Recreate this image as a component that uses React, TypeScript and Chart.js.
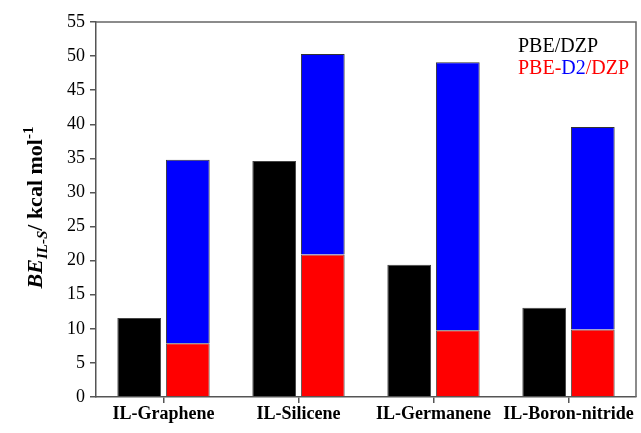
import React, { useEffect, useRef } from "react";
import { Chart, registerables } from "chart.js";

Chart.register(...registerables);

const categories = ["IL-Graphene", "IL-Silicene", "IL-Germanene", "IL-Boron-nitride"];
const pbeValues = [11.6, 34.6, 19.4, 13.1];
const pbeD2BaseValues = [7.9, 20.9, 9.8, 9.9];
const pbeD2TotalValues = [34.8, 50.3, 49.1, 39.6];
const yTicks = [0, 5, 10, 15, 20, 25, 30, 35, 40, 45, 50, 55];

const SERIF = '"Liberation Serif", "Times New Roman", serif';

const decorPlugin = {
  id: "decor",
  afterDraw(chart: any) {
    const { ctx, chartArea } = chart;
    const { left, right, top, bottom } = chartArea;
    ctx.save();
    // frame top & right
    ctx.strokeStyle = "#666";
    ctx.lineWidth = 1.5;
    ctx.beginPath();
    ctx.moveTo(left, top);
    ctx.lineTo(right, top);
    ctx.lineTo(right, bottom);
    ctx.stroke();

    // legend text
    ctx.textBaseline = "alphabetic";
    ctx.textAlign = "left";
    ctx.font = `20px ${SERIF}`;
    const lx = 518;
    ctx.fillStyle = "#000";
    ctx.fillText("PBE/DZP", lx, 52);
    const parts: [string, string][] = [
      ["PBE-", "#ff0000"],
      ["D2", "#0000ff"],
      ["/DZP", "#ff0000"],
    ];
    let x = lx;
    for (const [t, c] of parts) {
      ctx.fillStyle = c;
      ctx.fillText(t, x, 74);
      x += ctx.measureText(t).width;
    }

    // y axis title (rotated)
    const segs: { t: string; font: string; dy: number }[] = [
      { t: "BE", font: `italic bold 22px ${SERIF}`, dy: 0 },
      { t: "IL-S", font: `italic bold 15px ${SERIF}`, dy: 5 },
      { t: "/ kcal mol", font: `bold 22px ${SERIF}`, dy: 0 },
      { t: "-1", font: `bold 15px ${SERIF}`, dy: -9 },
    ];
    let total = 0;
    for (const s of segs) {
      ctx.font = s.font;
      total += ctx.measureText(s.t).width;
    }
    const cy = (top + bottom) / 2 - 2;
    ctx.translate(42, cy);
    ctx.rotate(-Math.PI / 2);
    ctx.fillStyle = "#000";
    let px = -total / 2;
    for (const s of segs) {
      ctx.font = s.font;
      ctx.fillText(s.t, px, s.dy);
      px += ctx.measureText(s.t).width;
    }
    ctx.restore();
  },
};

export default function App() {
  const ref = useRef<HTMLCanvasElement | null>(null);
  useEffect(() => {
    if (!ref.current) return;
    const blueValues = pbeD2TotalValues.map((v, i) => +(v - pbeD2BaseValues[i]).toFixed(2));
    const chart = new Chart(ref.current, {
      type: "bar",
      data: {
        labels: categories,
        datasets: [
          {
            label: "PBE/DZP",
            data: pbeValues,
            backgroundColor: "#000000",
            borderColor: "#444",
            borderWidth: 1,
            stack: "a",
          },
          {
            label: "PBE-D2/DZP (PBE part)",
            data: pbeD2BaseValues,
            backgroundColor: "#ff0000",
            borderColor: "#555",
            borderWidth: 1,
            stack: "b",
          },
          {
            label: "PBE-D2/DZP (D2 part)",
            data: blueValues,
            backgroundColor: "#0000ff",
            borderColor: "#333",
            borderWidth: 1,
            stack: "b",
          },
        ],
      },
      options: {
        responsive: false,
        animation: false,
        devicePixelRatio: 1,
        layout: { padding: { top: 22, right: 5, left: 0, bottom: 0 } },
        plugins: { legend: { display: false }, tooltip: { enabled: false }, title: { display: false } },
        datasets: { bar: { categoryPercentage: 0.72, barPercentage: 0.9 } },
        scales: {
          x: {
            stacked: true,
            grid: {
              display: true,
              drawOnChartArea: false,
              drawTicks: true,
              tickLength: 6,
              offset: false,
              color: "#555",
              lineWidth: 1.5,
            },
            border: { display: true, color: "#555", width: 1.5 },
            ticks: {
              color: "#000",
              font: { family: SERIF, size: 18, weight: "bold" },
              padding: 1,
              maxRotation: 0,
              minRotation: 0,
              autoSkip: false,
            },
            afterFit(scale: any) {
              scale.height = 36;
            },
          },
          y: {
            stacked: true,
            min: 0,
            max: 55,
            afterBuildTicks(scale: any) {
              scale.ticks = yTicks.map((v) => ({ value: v }));
            },
            grid: {
              display: true,
              drawOnChartArea: false,
              drawTicks: true,
              tickLength: 6,
              color: "#555",
              lineWidth: 1.5,
            },
            border: { display: true, color: "#555", width: 1.5 },
            ticks: {
              color: "#000",
              font: { family: SERIF, size: 18 },
              padding: 5,
            },
            afterFit(scale: any) {
              scale.width = 96;
            },
          },
        },
      },
      plugins: [decorPlugin],
    });
    return () => chart.destroy();
  }, []);
  return (
    <div style={{ position: "fixed", left: 0, top: 0, width: 641, height: 433, background: "#fff" }}>
      <canvas ref={ref} width={641} height={433} style={{ display: "block" }} />
    </div>
  );
}
